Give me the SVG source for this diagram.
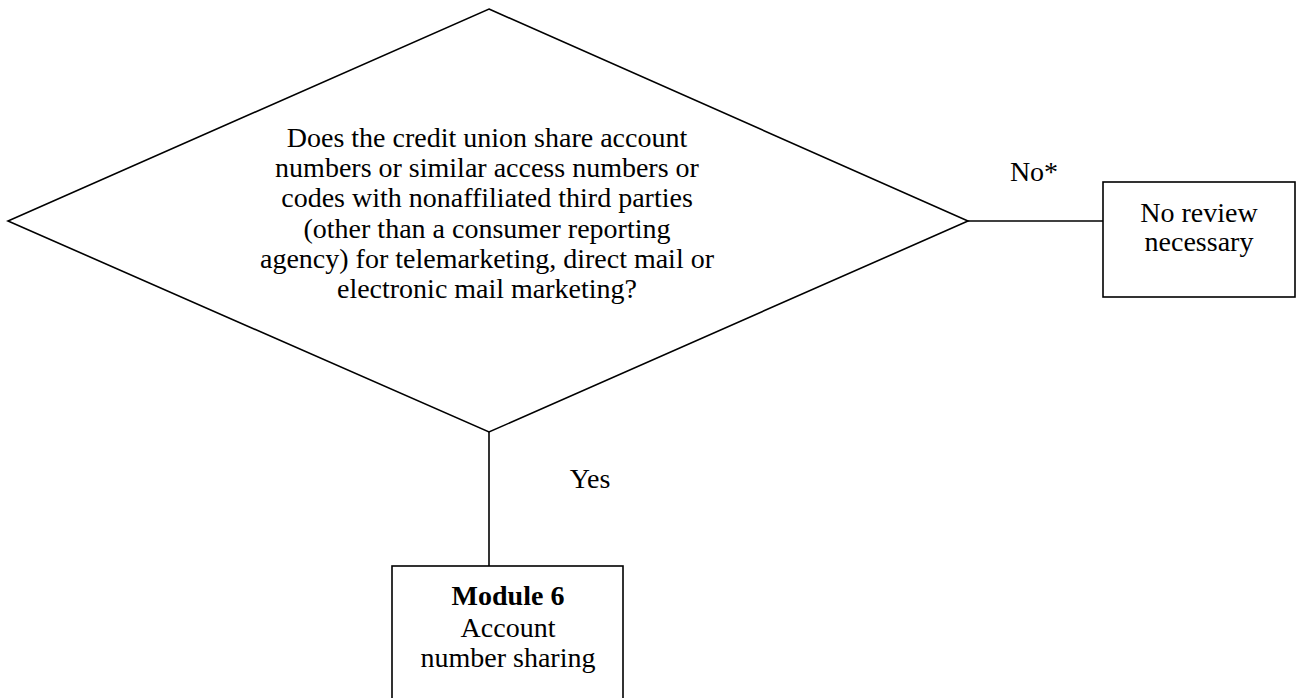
<svg xmlns="http://www.w3.org/2000/svg" width="1297" height="698" viewBox="0 0 1297 698">
<style>
.shape{fill:#ffffff;stroke:#000000;stroke-width:1.6}
.conn{fill:none;stroke:#000000;stroke-width:1.6}
text{font-family:"Liberation Serif","Times New Roman",serif;font-size:28px;fill:#000000;text-anchor:middle}
.b{font-weight:bold}
</style>
<rect width="1297" height="698" fill="#ffffff"/>
<g id="connectors">
<line class="conn" x1="968" y1="221" x2="1103" y2="221"/>
<line class="conn" x1="489" y1="432" x2="489" y2="566"/>
<text x="1034" y="181">No*</text>
<text x="590" y="488">Yes</text>
</g>
<g id="decision">
<polygon class="shape" points="489,9 968,221 489,432 8,221"/>
<text x="487" y="147">Does the credit union share account</text>
<text x="487" y="177">numbers or similar access numbers or</text>
<text x="487" y="207">codes with nonaffiliated third parties</text>
<text x="487" y="238">(other than a consumer reporting</text>
<text x="487" y="268">agency) for telemarketing, direct mail or</text>
<text x="487" y="298">electronic mail marketing?</text>
</g>
<g id="no-review">
<rect class="shape" x="1103" y="182" width="192" height="115"/>
<text x="1199" y="222">No review</text>
<text x="1199" y="251">necessary</text>
</g>
<g id="module6">
<rect class="shape" x="392" y="566" width="231" height="140"/>
<text class="b" x="508" y="605">Module 6</text>
<text x="508" y="637">Account</text>
<text x="508" y="667">number sharing</text>
</g>
</svg>
